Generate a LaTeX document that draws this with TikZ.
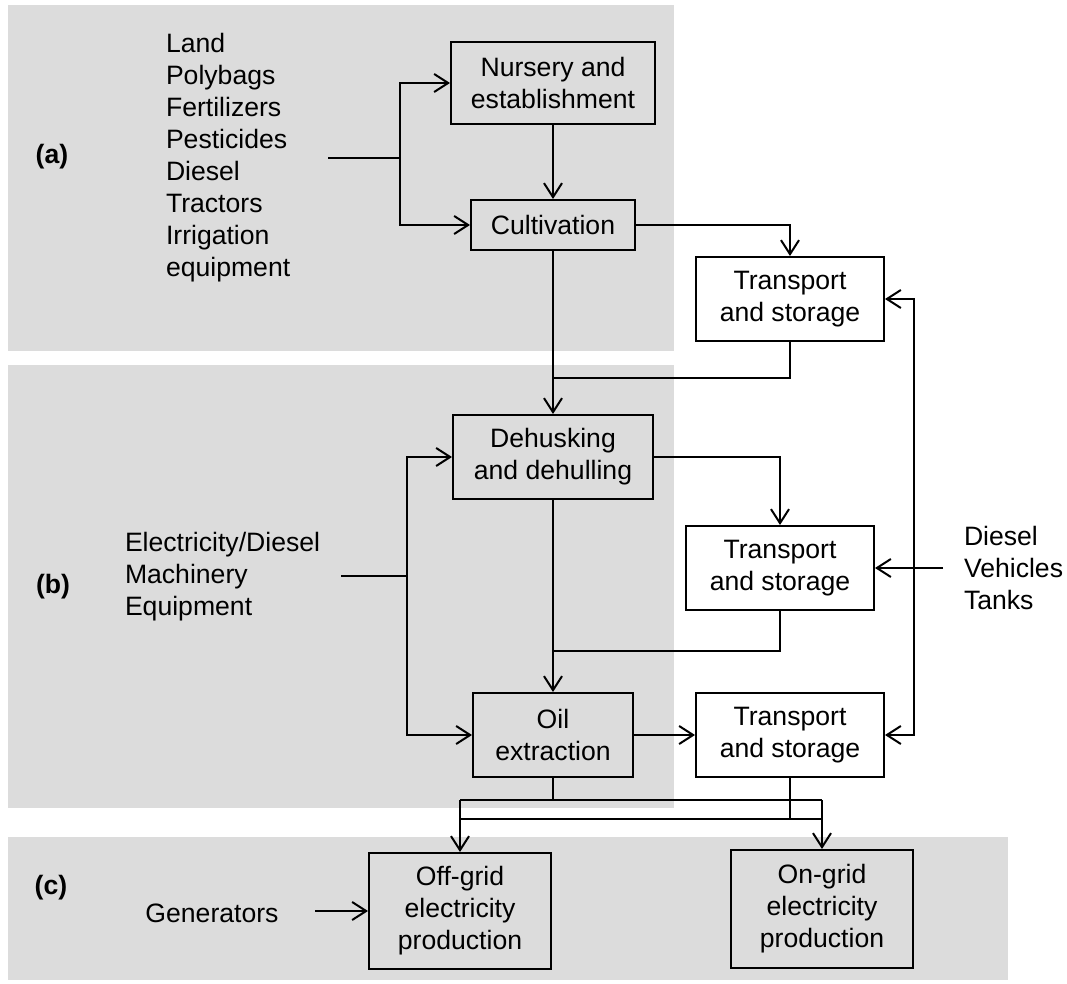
\documentclass[tikz,border=0pt]{standalone}
\usepackage{fontspec}
\setmainfont{Liberation Sans}
\usepackage{tikz}
\usetikzlibrary{calc,arrows.meta,positioning}
\usepackage{xcolor}
\definecolor{panelgray}{RGB}{220,220,220}

\begin{document}
\begin{tikzpicture}[x=0.5pt,y=-0.5pt,line width=1pt,
		every node/.style={font=\fontsize{13.3}{16}\selectfont},
		stage/.style={draw,fill=none,align=center,inner sep=0pt},
		inlist/.style={align=left,anchor=west,inner sep=0pt},
		tag/.style={font=\fontsize{13.3}{16}\selectfont\bfseries},
		arr/.style={-{Straight Barb[length=7pt,width=9pt]}}]
			\useasboundingbox (0,0) rectangle (1067,984);
			% the three panels
			\fill[panelgray] (8,5) rectangle (674,351);
			\fill[panelgray] (8,365) rectangle (674,808);
			\fill[panelgray] (8,837) rectangle (1008,980);
			\node[tag] (taga) at (52,157) {(a)};
			\node[tag] (tagb) at (53,587) {(b)};
			\node[tag] (tagc) at (51,888) {(c)};
			% inputs
			\node[inlist] (ina) at (165,158) {Land\\Polybags\\Fertilizers\\Pesticides\\Diesel\\Tractors\\Irrigation\\equipment};
			\node[inlist] (inb) at (124,577) {Electricity/Diesel\\Machinery\\Equipment};
			\node[inlist] (inr) at (963,568) {Diesel\\Vehicles\\Tanks};
			\node (gen) at (212,913) {Generators};
			% process boxes
			\node[stage,minimum width=102pt,minimum height=41pt] (nursery) at (553,83) {Nursery and\\establishment};
			\node[stage,minimum width=82pt,minimum height=25pt] (cultiv) at (553,225) {Cultivation};
			\node[stage,minimum width=94pt,minimum height=42pt] (trans1) at (790,299) {Transport\\and storage};
			\node[stage,minimum width=100pt,minimum height=42pt] (dehusk) at (553,457) {Dehusking\\and dehulling};
			\node[stage,minimum width=94pt,minimum height=42pt] (trans2) at (780,568) {Transport\\and storage};
			\node[stage,minimum width=80pt,minimum height=42pt] (oil) at (553,735) {Oil\\extraction};
			\node[stage,minimum width=94pt,minimum height=42pt] (trans3) at (790,735) {Transport\\and storage};
			\node[stage,minimum width=91pt,minimum height=58pt] (offgrid) at (460,911) {Off-grid\\electricity\\production};
			\node[stage,minimum width=91pt,minimum height=59pt] (ongrid) at (822,909) {On-grid\\electricity\\production};
			% connectors
			\coordinate (ain) at (328,158);
			\coordinate (asplit) at (400,158);
			\draw (ain) -- (asplit);
			\draw[arr] (asplit) |- (nursery.west);
			\draw[arr] (asplit) |- (cultiv.west);
			\draw[arr] (nursery) -- (cultiv);
			\draw[arr] (cultiv.east) -| (trans1.north);
			\draw[arr] (cultiv) -- (dehusk);
			\coordinate (j1) at (553,378);
			\draw (trans1.south) |- (j1);
			\coordinate (bin) at (341,576);
			\coordinate (bsplit) at (407,576);
			\draw (bin) -- (bsplit);
			\draw[arr] (bsplit) |- (dehusk.west);
			\draw[arr] (bsplit) |- (oil.west);
			\draw[arr] (dehusk.east) -| (trans2.north);
			\draw[arr] (dehusk) -- (oil);
			\coordinate (j2) at (553,651);
			\draw (trans2.south) |- (j2);
			\draw[arr] (oil) -- (trans3);
			\coordinate (din) at (943,568);
			\coordinate (dv) at (914,568);
			\draw[arr] (din) -- (trans2.east);
			\draw[arr] (dv) |- (trans1.east);
			\draw[arr] (dv) |- (trans3.east);
			% to electricity production
			\coordinate (bl) at (460,800);
			\coordinate (br) at (822,800);
			\coordinate (bl2) at (460,819);
			\coordinate (br2) at (822,819);
			\draw (oil.south) -- (oil.south |- bl);
			\draw (bl) -- (br);
			\draw (trans3.south) -- (trans3.south |- bl2);
			\draw (bl2) -- (br2);
			\draw[arr] (bl) -- (offgrid.north);
			\draw[arr] (br) -- (ongrid.north);
			\coordinate (genout) at (315,911);
			\draw[arr] (genout) -- (offgrid.west);
		\end{tikzpicture}
\end{document}
